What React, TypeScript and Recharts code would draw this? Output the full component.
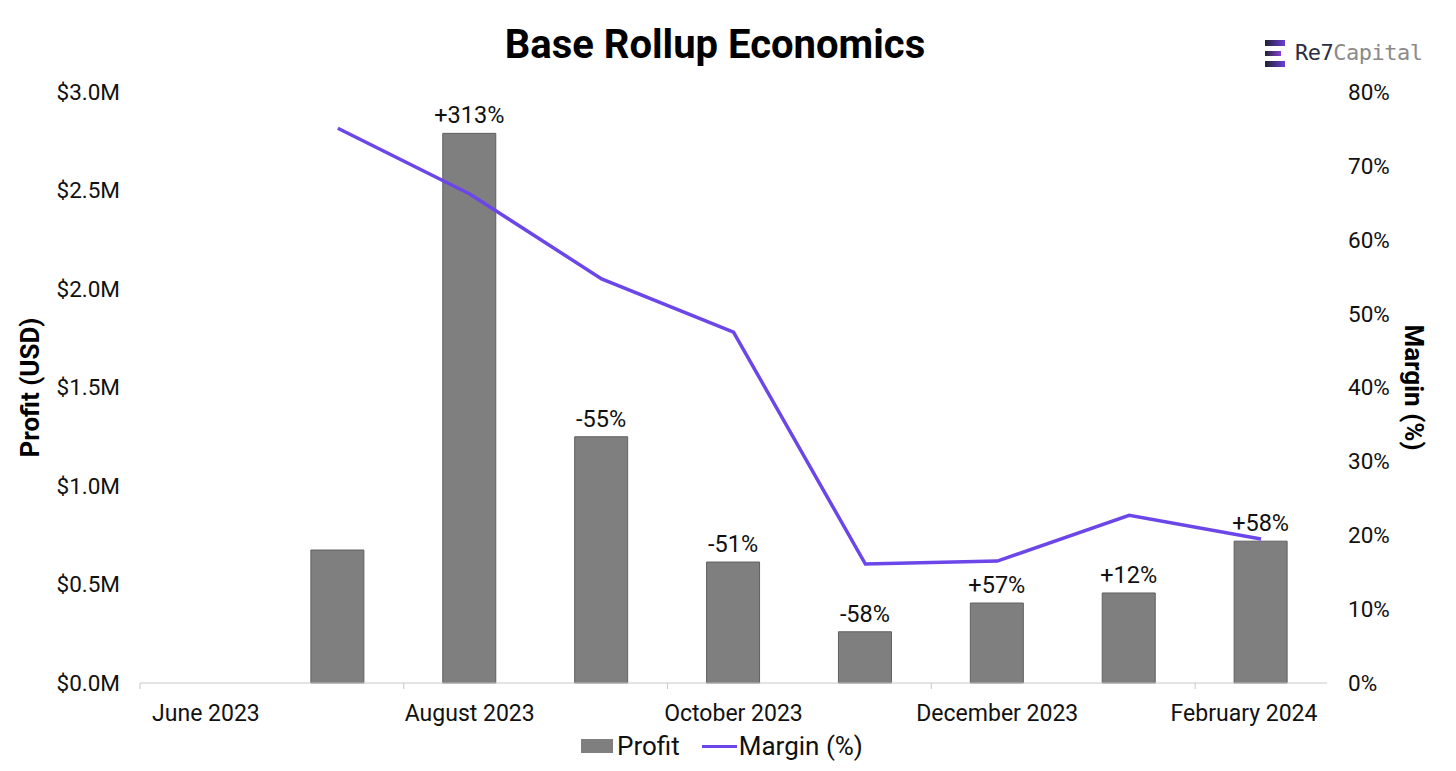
import React from 'react';
import {
    ComposedChart,
    Bar,
    Line,
    XAxis,
    YAxis,
    Legend,
    LabelList
} from 'recharts';

const months = [
    'June 2023', 'July 2023', 'August 2023', 'September 2023', 'October 2023',
    'November 2023', 'December 2023', 'January 2024', 'February 2024'
];
const profit = [null, 675000, 2790000, 1250000, 614000, 260000, 406000, 457000, 720000];
const margin = [null, 75.1, 66.2, 54.7, 47.5, 16.1, 16.5, 22.7, 19.5];
const changeLabels = ['', '', '+313%', '-55%', '-51%', '-58%', '+57%', '+12%', '+58%'];
const profitTicks = [0, 500000, 1000000, 1500000, 2000000, 2500000, 3000000];
const marginTicks = [0, 10, 20, 30, 40, 50, 60, 70, 80];

const data = months.map((m, i) => ({
    month: m,
    profit: profit[i],
    margin: margin[i],
    change: changeLabels[i]
}));

const FONT = 'Roboto, "Noto Sans", sans-serif';
const HALF_BAND = 1187 / 9 / 2;

function MonthTick(props: any) {
    const { x, y, payload } = props;
    const last = payload.value === 'February 2024';
    return (
        <g>
            <line x1={x - HALF_BAND} x2={x - HALF_BAND} y1={y - 8} y2={y - 2} stroke="#c8c8c8" />
            <text
                x={last ? x - 17 : x}
                y={y + 30}
                textAnchor="middle"
                fontFamily={FONT}
                fontSize={23}
                fill="#111"
            >
                {payload.value}
            </text>
        </g>
    );
}

function LegendContent() {
    return (
        <div style={{ display: 'flex', justifyContent: 'center', alignItems: 'center', fontFamily: FONT, fontSize: 26, color: '#111', marginLeft: -12 }}>
            <span style={{ display: 'inline-block', width: 32, height: 14, background: '#7f7f7f', marginRight: 4 }} />
            <span style={{ marginRight: 22 }}>Profit</span>
            <span style={{ display: 'inline-block', width: 35, height: 3, background: '#6b46e8', marginRight: 2 }} />
            <span>Margin (%)</span>
        </div>
    );
}

export default function App() {
    return (
        <div style={{ position: 'absolute', left: 0, top: 0, width: 1456, height: 771, background: '#fff', fontFamily: FONT }}>
            <div style={{ position: 'absolute', top: 21, left: 0, width: 1430, textAlign: 'center', fontSize: 40, fontWeight: 700, color: '#000' }}>
                Base Rollup Economics
            </div>
            <div style={{ position: 'absolute', left: 1265, top: 40, width: 20, height: 27 }}>
                <div style={{ position: 'absolute', top: 0, left: 0, width: 20, height: 6, background: 'linear-gradient(90deg,#1f2233,#6a3fd8)' }} />
                <div style={{ position: 'absolute', top: 11, left: 0, width: 16, height: 5, background: 'linear-gradient(90deg,#1f2233,#8a3fd8)' }} />
                <div style={{ position: 'absolute', top: 21, left: 0, width: 20, height: 6, background: 'linear-gradient(90deg,#1f2233,#6a3fd8)' }} />
            </div>
            <div style={{ position: 'absolute', left: 1295, top: 40, fontFamily: '"DejaVu Sans Mono", monospace', fontSize: 22, letterSpacing: -0.5 }}>
                <span style={{ color: '#2a2d45' }}>Re7</span>
                <span style={{ color: '#8a8a8a' }}>Capital</span>
            </div>
            <div style={{ position: 'absolute', top: 0 }}>
                <ComposedChart
                    width={1456}
                    height={771}
                    data={data}
                    margin={{ top: 92, right: 0, left: 0, bottom: 10 }}
                >
                    <XAxis
                        dataKey="month"
                        interval={1}
                        tickLine={false}
                        axisLine={{ stroke: '#c8c8c8' }}
                        tick={<MonthTick />}
                        height={48}
                    />
                    <YAxis
                        yAxisId="left"
                        domain={[0, 3000000]}
                        ticks={profitTicks}
                        width={140}
                        axisLine={false}
                        tickLine={false}
                        tickFormatter={(v: number) => '$' + (v / 1000000).toFixed(1) + 'M'}
                        tick={{ fill: '#111', fontSize: 22.5, fontFamily: FONT }}
                        tickMargin={14}
                        label={{
                            value: 'Profit (USD)',
                            angle: -90,
                            position: 'insideLeft',
                            offset: 30,
                            style: { fontFamily: FONT, fontSize: 26, fontWeight: 700, fill: '#000', textAnchor: 'middle' }
                        }}
                    />
                    <YAxis
                        yAxisId="right"
                        orientation="right"
                        domain={[0, 80]}
                        ticks={marginTicks}
                        width={129}
                        axisLine={false}
                        tickLine={false}
                        tickFormatter={(v: number) => v + '%'}
                        tick={{ fill: '#111', fontSize: 22.5, fontFamily: FONT, textAnchor: 'start' }}
                        tickMargin={15}
                        label={{
                            value: 'Margin (%)',
                            angle: 90,
                            position: 'insideRight',
                            offset: 42,
                            style: { fontFamily: FONT, fontSize: 26, fontWeight: 700, fill: '#000', textAnchor: 'middle' }
                        }}
                    />
                    <Legend verticalAlign="bottom" height={30} content={<LegendContent />} />
                    <Bar
                        yAxisId="left"
                        dataKey="profit"
                        fill="#7f7f7f"
                        stroke="#606060"
                        strokeWidth={1}
                        barSize={53}
                        isAnimationActive={false}
                    >
                        <LabelList
                            dataKey="change"
                            position="top"
                            offset={10}
                            style={{ fontFamily: FONT, fontSize: 23.5, fill: '#111' }}
                        />
                    </Bar>
                    <Line
                        yAxisId="right"
                        dataKey="margin"
                        stroke="#6b46e8"
                        strokeWidth={3.5}
                        dot={false}
                        type="linear"
                        isAnimationActive={false}
                    />
                </ComposedChart>
            </div>
        </div>
    );
}
